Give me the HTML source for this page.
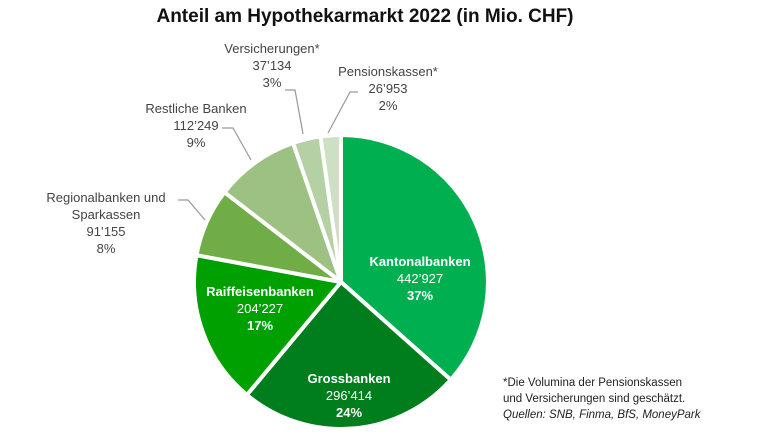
<!DOCTYPE html>
<html><head><style>
body{margin:0;background:#fff;width:770px;height:437px;overflow:hidden}
svg text{font-family:"Liberation Sans",sans-serif}
</style></head><body>
<svg width="770" height="437" viewBox="0 0 770 437">
<text x="365" y="22" text-anchor="middle" font-size="19" font-weight="bold" fill="#111">Anteil am Hypothekarmarkt 2022 (in Mio. CHF)</text>
<g stroke="#fff" stroke-width="4" stroke-linejoin="round">
<path d="M341,282 L341,135 A147,147 0 0 1 450.7,379.8 Z" fill="#00b050"/>
<path d="M341,282 L450.7,379.8 A147,147 0 0 1 246.9,394.9 Z" fill="#007d1c"/>
<path d="M341,282 L246.9,394.9 A147,147 0 0 1 196.5,255.2 Z" fill="#00a000"/>
<path d="M341,282 L196.5,255.2 A147,147 0 0 1 224.5,192.3 Z" fill="#70ad47"/>
<path d="M341,282 L224.5,192.3 A147,147 0 0 1 293.1,143.0 Z" fill="#9dc183"/>
<path d="M341,282 L293.1,143.0 A147,147 0 0 1 320.5,136.4 Z" fill="#b5d1a3"/>
<path d="M341,282 L320.5,136.4 A147,147 0 0 1 341,135 Z" fill="#cde0c3"/>
</g>
<g fill="none" stroke="#999" stroke-width="1.2">
<polyline points="303,134 295,90 285,90"/>
<polyline points="328,133 350,92 358,92"/>
<polyline points="251,160 233,128 222,128"/>
<polyline points="205,220 188,200 178,200"/>
</g>
<g font-size="13" fill="#444" text-anchor="middle">
<text x="272" y="53">Versicherungen*</text><text x="272" y="70">37’134</text><text x="272" y="87">3%</text>
<text x="388" y="76">Pensionskassen*</text><text x="388" y="93">26’953</text><text x="388" y="110">2%</text>
<text x="196" y="113">Restliche Banken</text><text x="196" y="130">112’249</text><text x="196" y="147">9%</text>
<text x="106" y="202">Regionalbanken und</text><text x="106" y="219">Sparkassen</text><text x="106" y="236">91’155</text><text x="106" y="253">8%</text>
</g>
<g font-size="13" fill="#fff" text-anchor="middle">
<text x="420" y="266" font-weight="bold">Kantonalbanken</text><text x="420" y="283">442’927</text><text x="420" y="300" font-weight="bold">37%</text>
<text x="349" y="383" font-weight="bold">Grossbanken</text><text x="349" y="400">296’414</text><text x="349" y="417" font-weight="bold">24%</text>
<text x="260" y="296" font-weight="bold">Raiffeisenbanken</text><text x="260" y="313">204’227</text><text x="260" y="330" font-weight="bold">17%</text>
</g>
<g font-size="11.5" fill="#222">
<text x="503" y="386">*Die Volumina der Pensionskassen</text>
<text x="503" y="402">und Versicherungen sind geschätzt.</text>
<text x="503" y="418" font-style="italic">Quellen: SNB, Finma, BfS, MoneyPark</text>
</g>
</svg>
</body></html>
